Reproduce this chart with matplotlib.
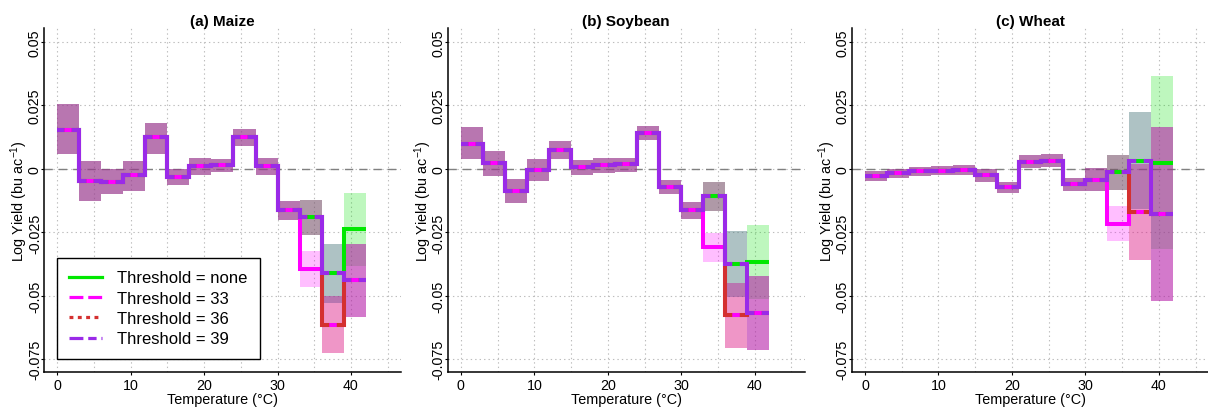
import numpy as np
import matplotlib
matplotlib.use("Agg")
import matplotlib.pyplot as plt
from matplotlib.lines import Line2D

plt.rcParams['font.family'] = ['Liberation Sans', 'DejaVu Sans']
plt.rcParams['mathtext.fontset'] = 'custom'
plt.rcParams['mathtext.rm'] = 'Liberation Sans'
plt.rcParams['mathtext.it'] = 'Liberation Sans:italic'
plt.rcParams['lines.scale_dashes'] = False

# 3 degree temperature bins, 0-42 C
edges = np.arange(0, 43, 3)

thresholds = ["none", "33", "36", "39"]
colors = ["#00e800", "#ff00ff", "#d43030", "#9a2ae8"]
fill_colors = ["#00e300", "#ff00ff", "#c42127", "#8228d8"]

# bins 0-33 are shared by every threshold model
maize_mid = [0.0155, -0.0046, -0.0051, -0.0025, 0.0125, -0.0033, 0.0013, 0.0017, 0.0126, 0.0011, -0.0163]
maize_lo = [0.0057, -0.0125, -0.0099, -0.0086, 0.0059, -0.0065, -0.0025, -0.0013, 0.0092, -0.0025, -0.0200]
maize_hi = [0.0254, 0.0033, 0.0000, 0.0033, 0.0182, 0.0000, 0.0043, 0.0040, 0.0158, 0.0043, -0.0128]

soy_mid = [0.0100, 0.0024, -0.0088, -0.0003, 0.0074, 0.0007, 0.0016, 0.0018, 0.0142, -0.0071, -0.0163]
soy_lo = [0.0040, -0.0029, -0.0134, -0.0049, 0.0040, -0.0022, -0.0016, -0.0013, 0.0113, -0.0099, -0.0198]
soy_hi = [0.0165, 0.0070, -0.0038, 0.0040, 0.0109, 0.0037, 0.0043, 0.0042, 0.0171, -0.0042, -0.0130]

wheat_mid = [-0.0026, -0.0016, -0.0009, -0.0007, -0.0004, -0.0024, -0.0072, 0.0029, 0.0033, -0.0058, -0.0042]
wheat_lo = [-0.0049, -0.0036, -0.0029, -0.0025, -0.0022, -0.0053, -0.0095, 0.0004, 0.0008, -0.0086, -0.0086]
wheat_hi = [-0.0009, 0.0001, 0.0008, 0.0013, 0.0016, 0.0000, -0.0053, 0.0054, 0.0057, -0.0036, 0.0002]

# bins 33-36, 36-39, 39-42; one row per threshold (none, 33, 36, 39)
maize_tail_mid = [[-0.0190, -0.0410, -0.0238],
                  [-0.0395, -0.0613, -0.0439],
                  [-0.0190, -0.0613, -0.0439],
                  [-0.0190, -0.0410, -0.0439]]
maize_tail_lo = [[-0.0259, -0.0527, -0.0382],
                 [-0.0464, -0.0727, -0.0582],
                 [-0.0259, -0.0727, -0.0582],
                 [-0.0259, -0.0527, -0.0582]]
maize_tail_hi = [[-0.0122, -0.0296, -0.0095],
                 [-0.0325, -0.0500, -0.0296],
                 [-0.0122, -0.0500, -0.0296],
                 [-0.0122, -0.0296, -0.0296]]

soy_tail_mid = [[-0.0107, -0.0375, -0.0366],
                [-0.0306, -0.0577, -0.0569],
                [-0.0107, -0.0577, -0.0569],
                [-0.0107, -0.0375, -0.0569]]
soy_tail_lo = [[-0.0164, -0.0503, -0.0514],
               [-0.0365, -0.0707, -0.0714],
               [-0.0164, -0.0707, -0.0714],
               [-0.0164, -0.0503, -0.0714]]
soy_tail_hi = [[-0.0053, -0.0246, -0.0220],
               [-0.0253, -0.0448, -0.0421],
               [-0.0053, -0.0448, -0.0421],
               [-0.0053, -0.0246, -0.0421]]

wheat_tail_mid = [[-0.0013, 0.0033, 0.0025],
                  [-0.0216, -0.0169, -0.0176],
                  [-0.0013, -0.0169, -0.0176],
                  [-0.0013, 0.0033, -0.0176]]
wheat_tail_lo = [[-0.0082, -0.0158, -0.0316],
                 [-0.0282, -0.0358, -0.0519],
                 [-0.0082, -0.0358, -0.0519],
                 [-0.0082, -0.0158, -0.0519]]
wheat_tail_hi = [[0.0055, 0.0224, 0.0366],
                 [-0.0147, 0.0020, 0.0167],
                 [0.0055, 0.0020, 0.0167],
                 [0.0055, 0.0224, 0.0167]]

titles = ["(a) Maize", "(b) Soybean", "(c) Wheat"]
panels = [
    (maize_mid, maize_lo, maize_hi, maize_tail_mid, maize_tail_lo, maize_tail_hi),
    (soy_mid, soy_lo, soy_hi, soy_tail_mid, soy_tail_lo, soy_tail_hi),
    (wheat_mid, wheat_lo, wheat_hi, wheat_tail_mid, wheat_tail_lo, wheat_tail_hi),
]

yticks = [-0.075, -0.05, -0.025, 0, 0.025, 0.05]
ytick_labels = ["-0.075", "-0.05", "-0.025", "0", "0.025", "0.05"]
xticks = [0, 10, 20, 30, 40]
xlim = (-1.8, 46.8)
ylim = (-0.080, 0.0555)

fig = plt.figure(figsize=(12.08, 4.10), dpi=100)
lefts = [0.0364, 0.3706, 0.7051]
ax_w, ax_b, ax_h = 0.2955, 0.0902, 0.839

lw = 2.9
# dash so that each 3-degree segment shows a gap in its middle
seg_pt = 3 * ax_w * 12.08 * 72 / (xlim[1] - xlim[0])
dash = (0, (0.33 * seg_pt, 0.34 * seg_pt))

for k, (cm, cl, ch, tm, tl, th) in enumerate(panels):
    ax = fig.add_axes([lefts[k], ax_b, ax_w, ax_h])
    ax.set_xlim(*xlim)
    ax.set_ylim(*ylim)
    ax.set_axisbelow(True)

    ax.set_xticks(xticks)
    ax.set_xticks(np.arange(0, 50, 5), minor=True)
    ax.set_yticks(yticks, ytick_labels, rotation=90, va='center')
    ax.grid(True, which='both', axis='x', color='#bdbdbd', lw=0.8, linestyle=(0, (1.0, 2.2)))
    ax.grid(True, which='major', axis='y', color='#bdbdbd', lw=0.8, linestyle=(0, (1.0, 2.2)))
    ax.tick_params(which='minor', length=0)
    ax.tick_params(which='major', length=2.5, width=0.8, labelsize=10.3, pad=1.5)
    ax.tick_params(axis='y', pad=-1.0)
    ax.axhline(0, color='#808080', lw=1.0, linestyle=(0, (6, 4.3)), zorder=1.5)

    for s in ['top', 'right']:
        ax.spines[s].set_visible(False)
    for s in ['left', 'bottom']:
        ax.spines[s].set_linewidth(1.1)

    series = []
    for i in range(4):
        mid = np.array(cm + tm[i])
        lo = np.array(cl + tl[i])
        hi = np.array(ch + th[i])
        series.append(mid)
        ax.bar(edges[:-1], hi - lo, bottom=lo, width=3, align='edge',
               color=fill_colors[i], alpha=0.255, linewidth=0, zorder=2)

    for i, mid in enumerate(series):
        if i < 2:
            ax.step(edges, np.append(mid, mid[-1]), where='post', color=colors[i],
                    lw=lw, solid_capstyle='butt', solid_joinstyle='miter', zorder=3)
        else:
            h = ax.hlines(mid, edges[:-1], edges[1:], color=colors[i], lw=lw,
                          linestyles=[dash], zorder=3)
            h.set_capstyle('butt')
            v = ax.vlines(edges[1:-1], mid[:-1], mid[1:], color=colors[i], lw=lw, zorder=3)
            v.set_capstyle('projecting')

    ax.set_title(titles[k], fontsize=11, fontweight='bold', pad=1.8)
    ax.set_xlabel("Temperature (\u00b0C)", fontsize=10.4, labelpad=0)
    ax.set_ylabel("Log Yield (bu ac$^{-1}$)", fontsize=10.4, labelpad=-1.5)

    if k == 0:
        handles = [
            Line2D([], [], color=colors[0], lw=2.3),
            Line2D([], [], color=colors[1], lw=2.3, linestyle=(0, (10, 3.5))),
            Line2D([], [], color=colors[2], lw=2.3, linestyle=(0, (2.8, 3.2))),
            Line2D([], [], color=colors[3], lw=2.3, linestyle=(0, (10, 3.5, 6, 3.5))),
        ]
        labels = ["Threshold = " + t for t in thresholds]
        leg = ax.legend(handles, labels, loc='lower left', bbox_to_anchor=(0.036, 0.038),
                        borderaxespad=0, fontsize=12, handlelength=1.95, handletextpad=0.9,
                        labelspacing=0.32, borderpad=0.75, fancybox=False, framealpha=1,
                        edgecolor='black')
        leg.get_frame().set_linewidth(1.0)
        leg.set_zorder(5)

fig.savefig("out.png", dpi=100)
